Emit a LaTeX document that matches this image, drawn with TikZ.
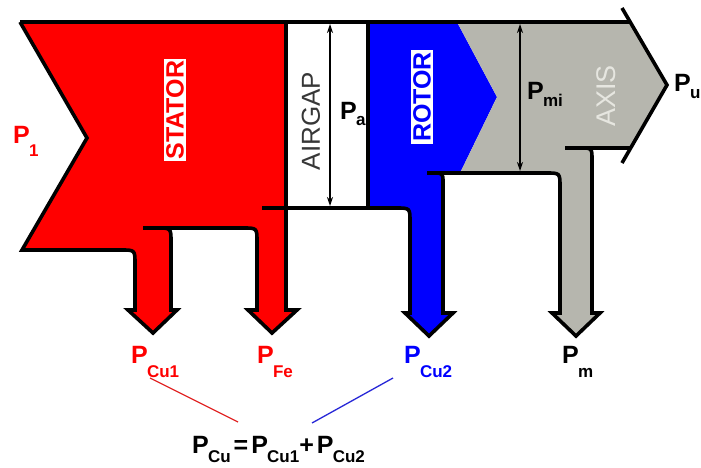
\documentclass[tikz,border=0pt]{standalone}
\usepackage{fontspec}
\setmainfont{Liberation Sans}
\usetikzlibrary{arrows.meta}
\definecolor{statorred}{RGB}{255,0,0}
\definecolor{rotorblue}{RGB}{0,0,255}
\definecolor{axisgray}{RGB}{182,182,174}
\definecolor{airtext}{RGB}{55,55,55}
\definecolor{axistext}{RGB}{230,230,224}
\definecolor{linkred}{RGB}{225,40,40}
\definecolor{linkblue}{RGB}{40,40,215}
\newcommand\powlab[2]{{\fontsize{25}{25}\selectfont P}\kern-0.8pt\raisebox{-#2pt}{\fontsize{17}{17}\selectfont #1}}
\newcommand\bigsym[1]{{\fontsize{25}{25}\selectfont #1}}
\begin{document}
\begin{tikzpicture}[x=1pt,y=-1pt,
  outline/.style={line width=3.6pt, line join=miter, line cap=butt},
  dblarrow/.style={line width=1.2pt, {Stealth[length=9pt,width=6pt]}-{Stealth[length=9pt,width=6pt]}},
  plabel/.style={anchor=base west, inner sep=0pt, font=\bfseries},
  vtext/.style={rotate=90, inner sep=2pt, font=\fontsize{25}{25}\selectfont\bfseries},
  link/.style={line width=1.3pt}]
\useasboundingbox (0,0) rectangle (701,468);
% fills
\fill[statorred] (20,22) -- (286,22) -- (286,310) -- (297,310) -- (272,333) -- (248,310) -- (257,310) -- (257,242) .. controls (257,228) .. (243,228) -- (157,228) .. controls (171,228) .. (171,242) -- (171,310) -- (177,310) -- (153,333) -- (128,310) -- (135,310) -- (135,264) .. controls (135,250) .. (121,250) -- (22,250) -- (87,138) -- cycle;
\fill[rotorblue] (368,22) -- (457,22) -- (497,97) -- (460,173) -- (433,173) .. controls (443,173) .. (443,183) -- (443,313) -- (453,313) -- (429,336) -- (405,313) -- (410,313) -- (410,222) .. controls (410,208) .. (396,208) -- (368,208) -- cycle;
\fill[axisgray] (457,22) -- (630,22) -- (667,85) -- (630,148) -- (580,148) .. controls (592,148) .. (592,160) -- (592,313) -- (600,313) -- (576,336) -- (552,313) -- (560,313) -- (560,187) .. controls (560,173) .. (546,173) -- (460,173) -- (497,97) -- cycle;
% outlines
\draw[outline] (20,22) -- (630,22);
\draw[outline] (20,22) -- (87,138) -- (22,250) -- (121,250) .. controls (135,250) .. (135,264) -- (135,310) -- (128,310) -- (153,333) -- (177,310) -- (171,310) -- (171,242) .. controls (171,228) .. (157,228);
\draw[outline] (143,228) -- (243,228) .. controls (257,228) .. (257,242) -- (257,310) -- (248,310) -- (272,333) -- (297,310) -- (286,310) -- (286,22);
\draw[outline] (262,208) -- (396,208) .. controls (410,208) .. (410,222) -- (410,313) -- (405,313) -- (429,336) -- (453,313) -- (443,313) -- (443,183) .. controls (443,173) .. (433,173);
\draw[outline] (368,22) -- (368,208);
\draw[outline] (427,173) -- (546,173) .. controls (560,173) .. (560,187) -- (560,313) -- (552,313) -- (576,336) -- (600,313) -- (592,313) -- (592,160) .. controls (592,148) .. (580,148);
\draw[outline] (565,148) -- (630,148);
\draw[outline] (622,8) -- (667,85) -- (622,163);
% internal double arrows
\coordinate (pa1) at (330,24);
\coordinate (pa2) at (330,206);
\coordinate (pm1) at (520,24);
\coordinate (pm2) at (520,171);
\draw[dblarrow] (pa1) -- (pa2);
\draw[dblarrow] (pm1) -- (pm2);
% region texts
\node[vtext, fill=white, text=statorred] (stator) at (175,110) {STATOR};
\node[vtext, text=airtext, font=\fontsize{26}{26}\selectfont\mdseries] (airgap) at (311,121) {AIRGAP};
\node[vtext, fill=white, text=rotorblue] (rotor) at (422,97) {ROTOR};
\node[vtext, text=axistext, font=\fontsize{27}{27}\selectfont\mdseries] (axis) at (606,96) {AXIS};
% power labels
\node[plabel, text=statorred] (p1) at (13,143) {\powlab{1}{13}};
\node[plabel] (pa) at (340,120) {\powlab{a}{6}};
\node[plabel] (pmi) at (527,100) {\powlab{mi}{7}};
\node[plabel] (pu) at (674,92) {\powlab{u}{7}};
\node[plabel, text=statorred] (pcu1) at (131,363) {\powlab{Cu1}{14}};
\node[plabel, text=statorred] (pfe) at (257,363) {\powlab{Fe}{14}};
\node[plabel, text=rotorblue] (pcu2) at (404,363) {\powlab{Cu2}{14}};
\node[plabel] (pm) at (562,363) {\powlab{m}{14}};
\node[plabel] (pcu) at (192,453) {\powlab{Cu}{9}\kern3pt\bigsym{=}\kern3pt\powlab{Cu1}{9}\bigsym{+}\kern3pt\powlab{Cu2}{9}};
% links
\coordinate (r1) at (150,378);
\coordinate (r2) at (238,422);
\coordinate (b1) at (393,378);
\coordinate (b2) at (312,423);
\draw[link, linkred] (r1) -- (r2);
\draw[link, linkblue] (b1) -- (b2);
\end{tikzpicture}
\end{document}
